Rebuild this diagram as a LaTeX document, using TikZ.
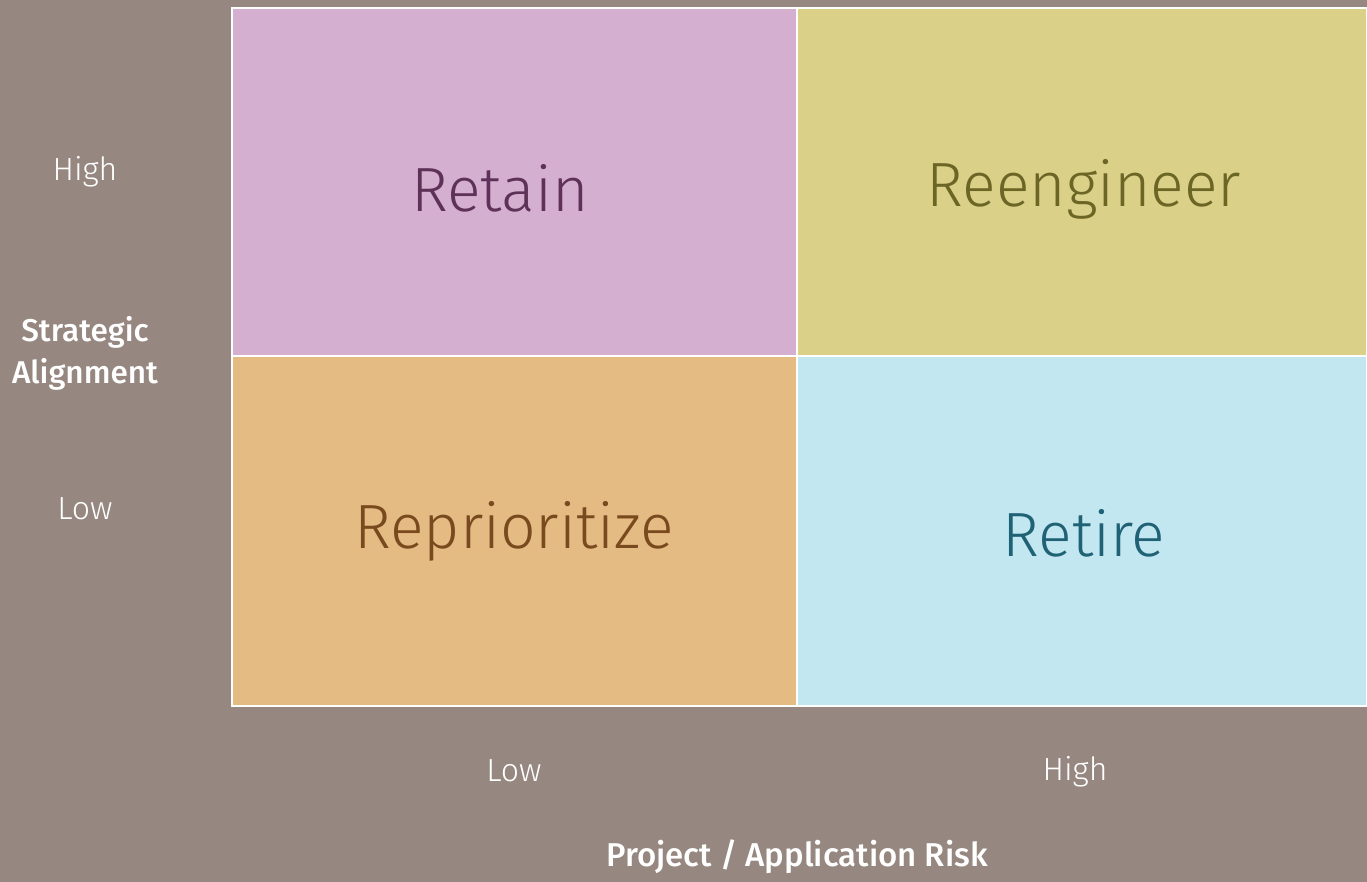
\documentclass[tikz,border=0pt]{standalone}
\usepackage{fontspec}
\setmainfont{Fira Sans}
\newfontfamily\quadfont{Fira Sans Light}
\newfontfamily\axisfont{Fira Sans Medium}
\definecolor{bgtaupe}{HTML}{968880}
\definecolor{qpurple}{HTML}{D5AFD0}
\definecolor{qyellow}{HTML}{DBD087}
\definecolor{qorange}{HTML}{E5BB84}
\definecolor{qblue}{HTML}{C3E7F0}
\definecolor{tpurple}{HTML}{5E3258}
\definecolor{tyellow}{HTML}{6C6626}
\definecolor{torange}{HTML}{7A4A1F}
\definecolor{tblue}{HTML}{1F6275}
\begin{document}
\begin{tikzpicture}[x=1pt,y=-1pt,
  quad/.style={draw=white,line width=1.5pt},
  quadlabel/.style={font=\quadfont\fontsize{62.5}{70}\selectfont,anchor=center},
  ticklabel/.style={font=\quadfont\fontsize{32}{36}\selectfont,text=white,anchor=center},
  axislabel/.style={font=\axisfont\fontsize{31.5}{42}\selectfont,text=white,anchor=center,align=center}]
  \useasboundingbox (0,0) rectangle (1367,882);
  \fill[bgtaupe] (0,0) rectangle (1367,882);
  % quadrants
  \path[quad,fill=qpurple] (232,8) rectangle (797,356);
  \path[quad,fill=qyellow] (797,8) rectangle (1367,356);
  \path[quad,fill=qorange] (232,356) rectangle (797,706);
  \path[quad,fill=qblue] (797,356) rectangle (1367,706);
  % quadrant titles
  \node[quadlabel,text=tpurple] (retain) at (500,188) {Retain};
  \node[quadlabel,text=tyellow] (reeng) at (1084,189) {Reengineer};
  \node[quadlabel,text=torange] (repri) at (514,531) {Reprioritize};
  \node[quadlabel,text=tblue] (retire) at (1084,533) {Retire};
  % vertical axis
  \node[ticklabel] (yhigh) at (85,172) {High};
  \node[axislabel] (yaxis) at (85,353) {Strategic\\Alignment};
  \node[ticklabel] (ylow) at (85,509) {Low};
  % horizontal axis
  \node[ticklabel] (xlow) at (514,771) {Low};
  \node[ticklabel] (xhigh) at (1075,772) {High};
  \node[axislabel,font=\axisfont\fontsize{33}{40}\selectfont] (xaxis) at (797,857) {Project / Application Risk};
\end{tikzpicture}
\end{document}
